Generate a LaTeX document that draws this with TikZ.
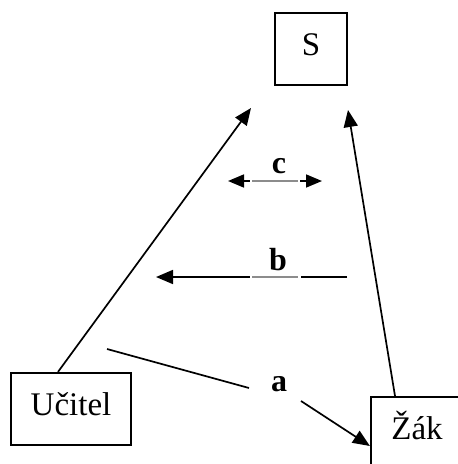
\documentclass[tikz,border=0pt]{standalone}
\usepackage{fontspec}
\setmainfont{Liberation Serif}
\usetikzlibrary{arrows.meta}
\begin{document}
\begin{tikzpicture}[x=1pt,y=-1pt,
  box/.style={draw=black, line width=2.2pt, minimum width=#1, minimum height=72pt,
    inner sep=0pt, text height=12pt, text depth=0pt,
    font=\fontsize{33}{36}\selectfont},
  box/.default=72pt,
  lbl/.style={anchor=base, inner sep=0pt, font=\fontsize{32}{34}\selectfont\bfseries},
  conn/.style={line width=1.7pt},
  arr/.style={conn, -{Triangle[length=17pt,width=14pt]}},
  midgray/.style={line width=1.7pt, draw=black!45},
  gapw/.style={line width=2.1pt, draw=white}]
\useasboundingbox (0,0) rectangle (458,464);

% the three boxes
\node[box=72pt]  (S) at (311,49)  {S};
\node[box=120pt] (U) at (71,409)  {Učitel};
\node[box=92pt]  (Z) at (417,433) {Žák};

% free ends of the connectors
\coordinate (tS1) at (251,108);
\coordinate (tS2) at (348,110);
\coordinate (c1) at (228,181);
\coordinate (c2) at (322,181);
\coordinate (b1) at (156,277);
\coordinate (b2) at (347,277);
\coordinate (a1) at (107,349);
\coordinate (a2) at (249,388);
\coordinate (a3) at (301,401);

% arrows towards S
\draw[arr] ([xshift=-13pt]U.north) -- (tS1);
\draw[arr] ([xshift=-22pt]Z.north) -- (tS2);

% c: double arrow
\draw[conn, {Triangle[length=16pt,width=13pt]}-{Triangle[length=16pt,width=13pt]}] (c1) -- (c2);
\draw[gapw] (250,181) -- (300,181);
\draw[midgray] (252,181) -- (298,181);
\node[lbl] (lc) at (279,173) {c};

% b: arrow to the left
\draw[arr] (b2) -- (b1);
\draw[gapw] (250,277) -- (300.5,277);
\draw[midgray] (252,277) -- (298,277);
\node[lbl] (lb) at (278,270) {b};

% a: arrow to Žák, broken by its label
\draw[conn] (a1) -- (a2);
\draw[arr] (a3) -- ([yshift=-13pt]Z.west);
\node[lbl] (la) at (279,391) {a};
\end{tikzpicture}
\end{document}
